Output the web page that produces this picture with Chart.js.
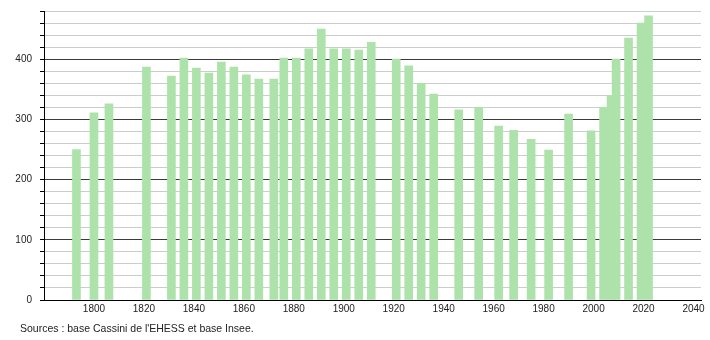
<!DOCTYPE html>
<html>
<head>
<meta charset="utf-8">
<script src="https://cdn.jsdelivr.net/npm/chart.js@4/dist/chart.umd.min.js"></script>
<style>
  body { margin: 0; background: #fff; }
  #wrap { position: relative; width: 710px; height: 340px; }
  #sources {
    position: absolute; left: 20px; top: 322px;
    font: 10.5px 'Liberation Sans', Arial, sans-serif; color: #222;
  }
</style>
</head>
<body>
<div id="wrap">
  <canvas id="chart" width="710" height="340"></canvas>
  <div id="sources">Sources : base Cassini de l'EHESS et base Insee.</div>
</div>
<script>
// census years and population
const years = [1793, 1800, 1806, 1821, 1831, 1836, 1841, 1846, 1851, 1856,
  1861, 1866, 1872, 1876, 1881, 1886, 1891, 1896, 1901, 1906,
  1911, 1921, 1926, 1931, 1936, 1946, 1954, 1962, 1968, 1975,
  1982, 1990, 1999, 2004, 2007, 2009, 2014, 2019, 2022];
const population = [250, 311, 326, 387, 372, 402, 385, 377, 395, 387,
  374, 367, 367, 402, 402, 417, 450, 417, 417, 415,
  428, 400, 389, 360, 342, 316, 320, 289, 282, 267,
  249, 309, 281, 320, 340, 400, 435, 460, 472];
const yTicks = [0, 100, 200, 300, 400];
const xTicks = [1800, 1820, 1840, 1860, 1880, 1900, 1920, 1940, 1960, 1980, 2000, 2020, 2040];

const fontFamily = "'Liberation Sans', Arial, sans-serif";

new Chart(document.getElementById('chart'), {
  type: 'bar',
  data: {
    datasets: [{
      data: years.map((y, i) => ({ x: y, y: population[i] })),
      backgroundColor: '#ade3ab',
      borderWidth: 0,
      barThickness: 8
    }]
  },
  options: {
    responsive: false,
    animation: false,
    layout: { padding: { top: 11, right: 9, bottom: 22, left: 0 } },
    plugins: { legend: { display: false }, tooltip: { enabled: false } },
    scales: {
      x: {
        type: 'linear',
        min: 1780,
        max: 2043,
        offset: false,
        grid: { display: false, drawTicks: false, tickLength: 0 },
        border: { color: '#000', width: 1 },
        ticks: {
          stepSize: 20,
          maxTicksLimit: 100,
          includeBounds: false,
          padding: 3,
          color: '#222',
          font: { family: fontFamily, size: 10 },
          maxRotation: 0,
          autoSkip: false,
          callback: v => xTicks.includes(v) ? String(v) : ''
        },
        afterFit: s => { s.height = 18; }
      },
      y: {
        min: 0,
        max: 480,
        grid: {
          color: c => yTicks.includes(c.tick.value) ? '#3a3a3a' : '#cccccc',
          tickColor: '#000',
          tickLength: 4
        },
        border: { color: '#000', width: 1 },
        ticks: {
          stepSize: 20,
          maxTicksLimit: 100,
          autoSkip: false,
          padding: 8,
          color: '#222',
          font: { family: fontFamily, size: 10, lineHeight: 0.2 },
          callback: v => yTicks.includes(v) ? String(v) : ''
        },
        afterFit: s => { s.width = 44; }
      }
    }
  }
});
</script>
</body>
</html>
